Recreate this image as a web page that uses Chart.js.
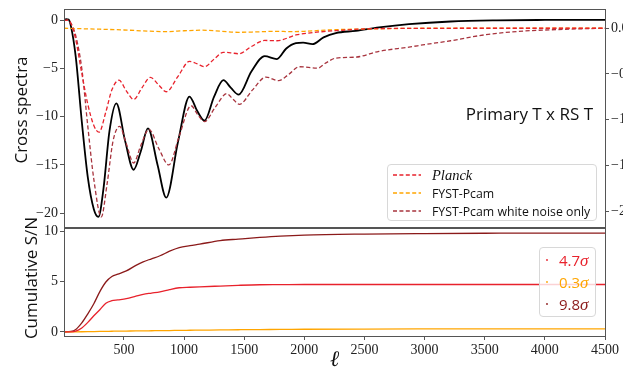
<!DOCTYPE html>
<html>
<head>
<meta charset="utf-8">
<script src="https://cdn.jsdelivr.net/npm/chart.js@4.4.1/dist/chart.umd.min.js"></script>
<style>
  html, body { margin: 0; padding: 0; background: #fff; overflow: hidden; width: 623px; height: 371px; }
  #wrap { position: relative; width: 623px; height: 371px; overflow: hidden; }
  canvas { position: absolute; left: 0; }
  #cTop { top: 0; }
  #cBot { top: 219px; }
  .ytitle { position: absolute; font-family: 'Open Sans', sans-serif; font-size: 17px; color: #111;
            white-space: nowrap; transform: translate(-50%, -50%) rotate(-90deg); }
  .note { position: absolute; font-family: 'Open Sans', sans-serif; font-size: 17px; color: #111;
          white-space: nowrap; text-align: right; }
  .legend { position: absolute; box-sizing: border-box; border: 1px solid #d8d8d8; border-radius: 4px;
            background: rgba(255,255,255,0.8); }
  .row { position: absolute; left: 0; display: flex; align-items: center; white-space: nowrap; }
  .row svg { display: block; }
  .lt { font-family: 'Open Sans', sans-serif; font-size: 12.3px; color: #111; }
  .lt.it { font-family: 'Liberation Serif', serif; font-style: italic; font-size: 14.5px; }
  .sn { font-family: 'Open Sans', sans-serif; font-size: 15px; }
  .sn i { font-family: 'Liberation Serif', serif; font-size: 17px; }
</style>
</head>
<body>
<div id="wrap">
  <canvas id="cTop" width="660" height="240"></canvas>
  <canvas id="cBot" width="660" height="152"></canvas>

  <div class="ytitle" style="left:20px; top:110px;">Cross spectra</div>
  <div class="ytitle" style="left:30px; top:278px;">Cumulative S/N</div>
  <div class="note" style="left:393px; width:200px; top:102px;">Primary T x RS T</div>

  <div class="legend" style="left:387px; top:164px; width:210px; height:57px;">
    <div class="row" style="top:1px; height:18px;">
      <svg width="44" height="6"><line x1="5" y1="3" x2="33" y2="3" stroke="#e8222c" stroke-width="1.3" stroke-dasharray="4 2.4"/></svg>
      <span class="lt it">Planck</span>
    </div>
    <div class="row" style="top:19px; height:18px;">
      <svg width="44" height="6"><line x1="5" y1="3" x2="33" y2="3" stroke="#ffa500" stroke-width="1.3" stroke-dasharray="4 2.4"/></svg>
      <span class="lt">FYST-Pcam</span>
    </div>
    <div class="row" style="top:37px; height:18px;">
      <svg width="44" height="6"><line x1="5" y1="3" x2="33" y2="3" stroke="#a8343e" stroke-width="1.3" stroke-dasharray="4 2.4"/></svg>
      <span class="lt">FYST-Pcam white noise only</span>
    </div>
  </div>

  <div class="legend" style="left:539px; top:247px; width:57px; height:70px;">
    <div class="row" style="top:1px; height:22px;">
      <svg width="19" height="4"><circle cx="7" cy="2" r="0.9" fill="#e8222c"/></svg>
      <span class="sn" style="color:#e8222c">4.7<i>σ</i></span>
    </div>
    <div class="row" style="top:23px; height:22px;">
      <svg width="19" height="4"><circle cx="7" cy="2" r="0.9" fill="#ffa500"/></svg>
      <span class="sn" style="color:#ffa500">0.3<i>σ</i></span>
    </div>
    <div class="row" style="top:45px; height:22px;">
      <svg width="19" height="4"><circle cx="7" cy="2" r="0.9" fill="#8b1a1a"/></svg>
      <span class="sn" style="color:#8b1a1a">9.8<i>σ</i></span>
    </div>
  </div>
</div>

<script>
// ---- cross spectra (upper panel) ----
const ellTotal   = [2, 20, 40, 60, 100, 150, 200, 250, 288, 330, 380, 437, 510, 581, 640, 700, 780, 852, 950, 1045,
                    1110, 1170, 1250, 1327, 1390, 1454, 1560, 1670, 1772, 1850, 1930, 1990, 2068, 2160, 2262, 2428,
                    2621, 2870, 3216, 3600, 4000, 4500];
const crossTotal = [0.0, 0.15, 0.1, -0.6, -3.8, -10.5, -16.3, -19.6, -20.4, -17.5, -11.5, -8.6, -12.5, -15.5, -13.6, -11.2, -15.0, -18.4, -12.6, -7.9,
                    -9.4, -10.4, -7.9, -6.2, -7.0, -7.7, -5.3, -3.7, -4.0, -2.9, -2.35, -2.3, -2.45, -1.75, -1.3, -1.07,
                    -0.72, -0.38, -0.1, 0.02, 0.06, 0.07];

const ellPlanck   = [2, 30, 60, 100, 150, 200, 250, 293, 350, 400, 459, 520, 581, 650, 719, 790, 852, 950, 1045, 1110,
                     1170, 1250, 1327, 1390, 1454, 1560, 1670, 1772, 1930, 2070, 2262, 2540, 2800, 3500, 4500];
const crossPlanck = [0.0, 0.05, -0.3, -2.0, -5.5, -8.7, -10.9, -11.6, -9.5, -7.2, -6.2, -7.3, -8.2, -7.0, -5.9, -6.7, -7.4, -5.8, -4.25, -4.5,
                     -4.8, -4.0, -3.3, -3.35, -3.45, -2.7, -2.07, -2.1, -1.5, -1.25, -1.05, -0.85, -0.82, -0.8, -0.8];

const ellPcam   = [2, 150, 300, 500, 700, 850, 1000, 1150, 1300, 1450, 1600, 1750, 1900, 2000, 2200, 2400, 2700, 3000, 4500];
const crossPcam = [-0.8, -0.85, -0.9, -0.98, -1.1, -1.15, -1.06, -1.0, -1.1, -1.22, -1.18, -1.12, -1.15, -1.12, -0.98, -0.9, -0.84, -0.8, -0.78];

const ellWhite   = [2, 30, 60, 100, 150, 200, 250, 312, 360, 410, 464, 520, 581, 640, 708, 790, 874, 960, 1059, 1115,
                    1170, 1260, 1355, 1410, 1460, 1570, 1681, 1785, 1870, 1958, 2110, 2180, 2262, 2428, 2621, 2870,
                    3000, 3216, 3492, 3768, 4045, 4300, 4500];
const crossWhite = [0.0, 0.05, -0.3, -1.6, -5.0, -11.0, -16.5, -20.4, -17.0, -12.5, -11.0, -12.8, -14.8, -13.0, -11.3, -13.3, -15.0, -12.0, -8.85, -9.8,
                    -10.5, -9.0, -7.6, -8.2, -8.7, -7.2, -5.87, -6.25, -5.6, -4.8, -4.95, -4.4, -3.9, -3.8, -3.2, -2.76,
                    -2.5, -2.1, -1.5, -1.14, -0.96, -0.86, -0.8];

// ---- cumulative signal-to-noise (lower panel) ----
const ellSN    = [2, 60, 100, 150, 200, 250, 300, 350, 400, 450, 520, 600, 660, 730, 800, 880, 960, 1050, 1130,
                  1300, 1450, 1630, 1800, 2000, 2500, 3000, 3500, 4000, 4500];
const snPlanck = [0, 0.01, 0.08, 0.4, 0.95, 1.6, 2.2, 2.85, 3.1, 3.18, 3.3, 3.55, 3.73, 3.85, 3.97, 4.2, 4.38, 4.43, 4.47,
                  4.55, 4.62, 4.68, 4.69, 4.7, 4.7, 4.7, 4.7, 4.7, 4.7];
const snPcam   = [0, 0, 0.01, 0.02, 0.03, 0.04, 0.05, 0.06, 0.07, 0.08, 0.09, 0.1, 0.11, 0.12, 0.13, 0.14, 0.16, 0.17, 0.18,
                  0.2, 0.22, 0.24, 0.25, 0.27, 0.29, 0.3, 0.3, 0.3, 0.3];
const snWhite  = [0, 0.05, 0.25, 0.9, 1.8, 2.8, 4.0, 4.95, 5.5, 5.72, 6.05, 6.6, 6.95, 7.25, 7.55, 8.0, 8.35, 8.55, 8.7,
                  9.05, 9.2, 9.37, 9.5, 9.6, 9.7, 9.75, 9.78, 9.8, 9.8];

// ---- tick values ----
const crossTicks = [0, -5, -10, -15, -20];
const rightTicks = [0.0, -0.5, -1.0, -1.5, -2.0];
const snTicks    = [0, 5, 10];
const ellTicks   = [500, 1000, 1500, 2000, 2500, 3000, 3500, 4000, 4500];

const RED = '#e8222c', ORANGE = '#ffa500', WINE = '#a8343e', DARKRED = '#8b1a1a';
const SERIF = "'Liberation Serif', 'DejaVu Serif', serif";
const INK = '#222', SPINE = '#555';

const pts = (xs, ys) => xs.map((x, i) => ({ x, y: ys[i] }));
const minus = s => String(s).replace('-', '\u2212');
const setTicks = values => scale => { scale.ticks = values.map(v => ({ value: v })); };

// box around each plotting area
const frame = {
  id: 'frame',
  afterDraw(chart) {
    const { ctx, chartArea: a } = chart;
    ctx.save();
    ctx.strokeStyle = SPINE;
    ctx.lineWidth = 1;
    ctx.strokeRect(Math.round(a.left) + 0.5, Math.round(a.top) + 0.5,
                   Math.round(a.right - a.left), Math.round(a.bottom - a.top));
    ctx.restore();
  }
};

const tickGrid = { display: true, drawOnChartArea: false, drawTicks: true, tickLength: 4, color: SPINE };
const tickFont = { family: SERIF, size: 14, lineHeight: 1 };

function line(data, color, width, dashed) {
  return {
    data, borderColor: color, borderWidth: width, borderDash: dashed ? [4.2, 2.4] : [],
    pointRadius: 0, fill: false, cubicInterpolationMode: 'monotone'
  };
}

new Chart(document.getElementById('cTop'), {
  type: 'line',
  data: {
    datasets: [
      line(pts(ellPlanck, crossPlanck), RED, 1.3, true),
      line(pts(ellPcam, crossPcam), ORANGE, 1.3, true),
      line(pts(ellWhite, crossWhite), WINE, 1.3, true),
      line(pts(ellTotal, crossTotal), '#000', 1.8, false)
    ]
  },
  options: {
    responsive: false, animation: false, devicePixelRatio: 1,
    layout: { padding: { top: 9, bottom: 13, left: 0, right: 0 } },
    plugins: { legend: { display: false }, tooltip: { enabled: false } },
    scales: {
      x: {
        type: 'linear', min: 2, max: 4500,
        ticks: { display: false }, grid: { display: false }, border: { display: false },
        afterFit: s => { s.height = 0; }
      },
      y: {
        position: 'left', min: -21.45, max: 1.2,
        afterBuildTicks: setTicks(crossTicks),
        ticks: { font: tickFont, color: INK, padding: 2, callback: v => minus(v) },
        grid: tickGrid, border: { display: false },
        afterFit: s => { s.width = 64; }
      },
      y2: {
        position: 'right', min: -2.175, max: 0.21,
        afterBuildTicks: setTicks(rightTicks),
        ticks: { font: tickFont, color: INK, padding: 2, callback: v => minus(Number(v).toFixed(1)) },
        grid: tickGrid, border: { display: false },
        afterFit: s => { s.width = 55; }
      }
    }
  },
  plugins: [frame]
});

new Chart(document.getElementById('cBot'), {
  type: 'line',
  data: {
    datasets: [
      line(pts(ellSN, snPlanck), RED, 1.3, false),
      line(pts(ellSN, snPcam), ORANGE, 1.3, false),
      line(pts(ellSN, snWhite), DARKRED, 1.3, false)
    ]
  },
  options: {
    responsive: false, animation: false, devicePixelRatio: 1,
    layout: { padding: { top: 8, bottom: 0, left: 0, right: 55 } },
    plugins: { legend: { display: false }, tooltip: { enabled: false } },
    scales: {
      x: {
        type: 'linear', min: 2, max: 4500,
        afterBuildTicks: setTicks(ellTicks),
        ticks: { font: tickFont, color: INK, padding: 3, maxRotation: 0, autoSkip: false, callback: v => String(v) },
        grid: tickGrid, border: { display: false },
        title: { display: true, text: 'ℓ', color: '#111', padding: 0,
                 font: { family: SERIF, style: 'italic', size: 22, lineHeight: 1 } },
        afterFit: s => { s.height = 35; }
      },
      y: {
        position: 'left', min: -0.4, max: 10.3,
        afterBuildTicks: setTicks(snTicks),
        ticks: { font: tickFont, color: INK, padding: 2, callback: v => String(v) },
        grid: tickGrid, border: { display: false },
        afterFit: s => { s.width = 64; }
      }
    }
  },
  plugins: [frame]
});
</script>
</body>
</html>
